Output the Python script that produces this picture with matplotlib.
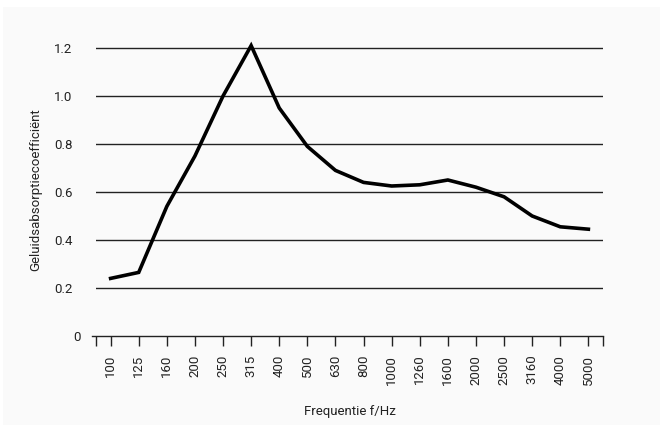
import matplotlib.pyplot as plt
from matplotlib.patches import Rectangle

freqs = ['100', '125', '160', '200', '250', '315', '400', '500', '630',
         '800', '1000', '1260', '1600', '2000', '2500', '3160', '4000', '5000']
alpha = [0.24, 0.265, 0.54, 0.75, 1.0, 1.21, 0.95, 0.79, 0.69,
         0.64, 0.625, 0.63, 0.65, 0.62, 0.58, 0.50, 0.455, 0.445]
yticks = [0, 0.2, 0.4, 0.6, 0.8, 1.0, 1.2]
ytick_labels = ['0', '0.2', '0.4', '0.6', '0.8', '1.0', '1.2']

plt.rcParams['font.family'] = ['Roboto', 'DejaVu Sans']

fig = plt.figure(figsize=(6.63, 4.32), dpi=100, facecolor='white')
# light panel behind the chart
fig.patches.append(Rectangle((3 / 663, 7 / 432), 657 / 663, 418 / 432,
                             transform=fig.transFigure, facecolor='#fafafa',
                             edgecolor='none', zorder=-1))

ax = fig.add_axes([96 / 663, 1 - 336 / 432, (603 - 96) / 663, (336 - 18) / 432])
ax.set_facecolor('none')

x = list(range(len(freqs)))
ax.plot(x, alpha, color='black', lw=2.6, solid_joinstyle='miter', zorder=3)

ax.set_xlim(-0.52, len(freqs) - 1 + 0.52)
ax.set_ylim(0, 1.325)

for y in yticks[1:]:
    ax.axhline(y, color='#222222', lw=1.0, zorder=1)

for s in ['top', 'right', 'left']:
    ax.spines[s].set_visible(False)
ax.spines['bottom'].set_color('#222222')
ax.spines['bottom'].set_linewidth(1.0)
ax.spines['bottom'].set_bounds(-0.66, len(freqs) - 1 + 0.52)

ax.set_xticks(x)
ax.set_xticklabels(freqs, rotation=90, fontsize=9.5, color='#222222')
ax.set_xticks([-0.52, len(freqs) - 1 + 0.52], minor=True)
ax.tick_params(axis='x', which='both', direction='out', length=7.5, width=1,
               color='#222222', pad=6)
ax.set_yticks(yticks)
ax.set_yticklabels(ytick_labels, fontsize=9.5, color='#222222')
ax.tick_params(axis='y', length=0, pad=17)
# the "0" label sits a little closer to the axis
ax.yaxis.get_major_ticks()[0].set_pad(11)

ax.set_xlabel('Frequentie f/Hz', fontsize=9.5, color='#222222')
ax.xaxis.set_label_coords(0.5, -(411 - 336) / 318, transform=ax.transAxes)
ax.xaxis.label.set_va('center')
ax.set_ylabel('Geluidsabsorptiecoefficiënt', fontsize=9.5, color='#222222')
ax.yaxis.set_label_coords(-(96 - 36) / 507, (336 - 190) / 318, transform=ax.transAxes)
ax.yaxis.label.set_va('center')

fig.savefig('out.png', dpi=100, facecolor='white')
